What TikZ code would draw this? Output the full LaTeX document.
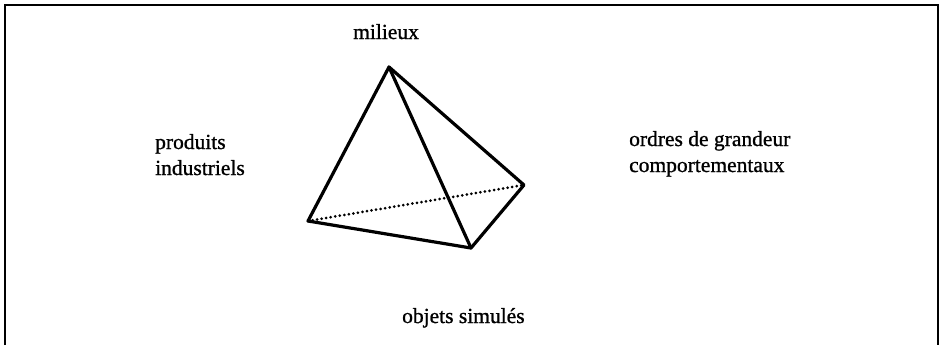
\documentclass[tikz,border=0pt]{standalone}
\usepackage{fontspec}
\setmainfont{Liberation Serif}[FakeBold=1]
\begin{document}
\begin{tikzpicture}[x=1bp,y=-1bp,
  edge/.style={line width=3.2bp,line join=round,line cap=round},
  hidden/.style={line width=3bp,dash pattern=on 0bp off 4.6bp,line cap=round},
  lbl/.style={inner sep=0pt,font=\fontsize{21.5bp}{26bp}\selectfont,align=left}]
\useasboundingbox (0,0) rectangle (939,345);
\draw[line width=2bp] (4.5,345) -- (4.5,4.5) -- (938,4.5) -- (938,345);
\coordinate (T) at (389,67);
\coordinate (L) at (308,221);
\coordinate (B) at (471,248);
\coordinate (R) at (524,185);
\draw[hidden] (L) -- (R);
\draw[edge] (T) -- (L) -- (B) -- (R) -- cycle;
\draw[edge] (T) -- (B);
\node[lbl,anchor=base west] (mil) at (353,39) {milieux};
\node[lbl,anchor=base west] (prod) at (155,175) {produits\\industriels};
\node[lbl,anchor=base west] (ord) at (629,172) {ordres de grandeur\\comportementaux};
\node[lbl,anchor=base west] (obj) at (402,323) {objets simulés};
\end{tikzpicture}
\end{document}
